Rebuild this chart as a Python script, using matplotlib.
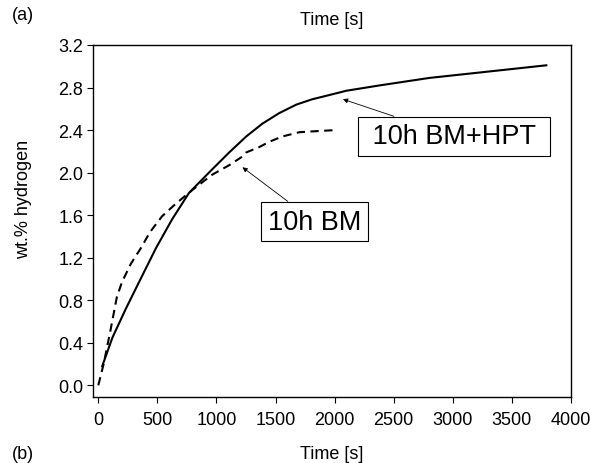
import matplotlib
matplotlib.use("Agg")
import matplotlib.pyplot as plt

plt.rcParams['font.family'] = ['Liberation Sans', 'DejaVu Sans']

# 10h BM+HPT (solid)
t_hpt = [30, 120, 233, 340, 488, 624, 768, 963, 1108, 1252, 1388, 1532, 1677, 1812, 1957, 2100, 2381, 2800, 3300, 3800]
v_hpt = [0.17, 0.45, 0.72, 0.96, 1.29, 1.56, 1.81, 2.03, 2.19, 2.34, 2.46, 2.56, 2.64, 2.69, 2.73, 2.77, 2.82, 2.89, 2.95, 3.01]

# 10h BM (dashed)
t_bm = [0, 45, 100, 157, 200, 274, 360, 437, 540, 658, 800, 963, 1108, 1218, 1252, 1362, 1447, 1558, 1702, 1850, 2010]
v_bm = [0.0, 0.2, 0.5, 0.83, 0.97, 1.14, 1.29, 1.44, 1.59, 1.71, 1.84, 1.98, 2.07, 2.15, 2.19, 2.24, 2.29, 2.34, 2.38, 2.39, 2.40]

xticks = [0, 500, 1000, 1500, 2000, 2500, 3000, 3500, 4000]
yticks = [0.0, 0.4, 0.8, 1.2, 1.6, 2.0, 2.4, 2.8, 3.2]

fig = plt.figure(figsize=(5.9, 4.64), dpi=100)
ax = fig.add_axes([0.1576, 0.1422, 0.8102, 0.7587])

ax.plot(t_hpt, v_hpt, color='black', lw=1.5, solid_capstyle='butt', solid_joinstyle='round')
ax.plot(t_bm, v_bm, color='black', lw=1.5, dashes=(4, 2.6))

ax.set_xlim(-45, 4000)
ax.set_ylim(-0.11, 3.2)
ax.set_xticks(xticks)
ax.set_xticklabels([str(x) for x in xticks])
ax.set_yticks(yticks)
ax.set_yticklabels([f"{y:.1f}" for y in yticks])
ax.tick_params(direction='out', length=4, width=0.8, labelsize=13, color='black')
ax.tick_params(axis='x', pad=6)
ax.tick_params(axis='y', pad=3)
for s in ax.spines.values():
    s.set_linewidth(1.0)

ax.set_ylabel('wt.% hydrogen', fontsize=13)
ax.yaxis.set_label_coords(-0.128, 0.565)
ax.set_xlabel('Time [s]', fontsize=13, labelpad=12)
ax.set_title('Time [s]', fontsize=13, pad=15)

fig.text(0.02, 0.985, '(a)', fontsize=13, ha='left', va='top')
fig.text(0.02, 0.003, '(b)', fontsize=13, ha='left', va='bottom')

arrow = dict(arrowstyle='-|>', lw=0.6, color='black', mutation_scale=7, shrinkA=0, shrinkB=0)
box = dict(boxstyle='square,pad=0.25', fc='white', ec='black', lw=0.8)
ax.annotate(' 10h BM+HPT ', xy=(2070, 2.69), xytext=(3010, 2.34), fontsize=19.5,
            ha='center', va='center', bbox=box, arrowprops=arrow)
ax.annotate('10h BM', xy=(1220, 2.05), xytext=(1830, 1.54), fontsize=19.5,
            ha='center', va='center', bbox=box, arrowprops=arrow)

fig.savefig('out.png', dpi=100)
